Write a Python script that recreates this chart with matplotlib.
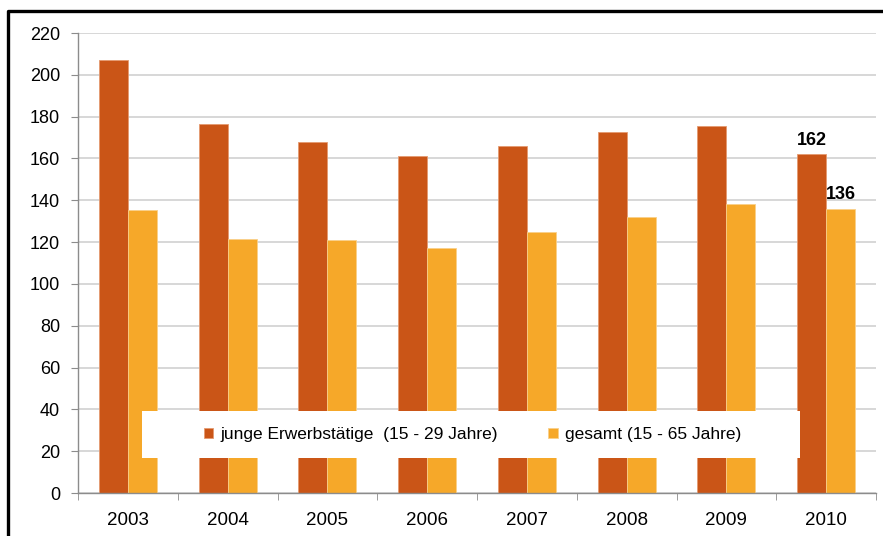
import matplotlib
matplotlib.use("Agg")
import matplotlib.pyplot as plt
from matplotlib.patches import Rectangle
from matplotlib.lines import Line2D
import numpy as np

plt.rcParams['font.family'] = ['Liberation Sans', 'DejaVu Sans']

years = ['2003', '2004', '2005', '2006', '2007', '2008', '2009', '2010']
junge = [207, 176.5, 168, 161, 166, 172.5, 175.5, 162]
gesamt = [135.5, 121.5, 121, 117, 125, 132, 138, 136]
label_junge = 'junge Erwerbstätige  (15 - 29 Jahre)'
label_gesamt = 'gesamt (15 - 65 Jahre)'

c_junge = '#CA5517'
c_gesamt = '#F6A829'

W, H = 883, 536
fig = plt.figure(figsize=(W / 100, H / 100), dpi=100)
ax = fig.add_axes([78 / W, (H - 493) / H, (876 - 78) / W, (493 - 33) / H])

x = np.arange(len(years))
w = 0.29
ax.bar(x - w / 2, junge, w, color=c_junge, edgecolor='#E59A70', linewidth=0.6, zorder=2, label=label_junge)
ax.bar(x + w / 2, gesamt, w, color=c_gesamt, edgecolor='#F9D08A', linewidth=0.6, zorder=2, label=label_gesamt)

ax.set_xlim(-0.5, len(years) - 0.5)
ax.set_ylim(0, 220)
ax.set_yticks(range(0, 221, 20))
ax.yaxis.grid(True, color='#D4D4D4', linewidth=1.3, zorder=0)
ax.set_axisbelow(True)

for s in ['top', 'right']:
    ax.spines[s].set_visible(False)
for s in ['left', 'bottom']:
    ax.spines[s].set_color('#8C8C8C')
    ax.spines[s].set_linewidth(1.0)

ax.set_xticks(x)
ax.set_xticklabels(years)
ax.set_xticks(np.arange(len(years) + 1) - 0.5, minor=True)
ax.tick_params(axis='x', which='major', length=0, pad=14, labelsize=13.5)
ax.tick_params(axis='x', which='minor', length=5, color='#8C8C8C', direction='out')
ax.tick_params(axis='y', length=5, color='#8C8C8C', pad=8, labelsize=13)

# value labels on last pair
ax.annotate(f'{junge[-1]:.0f}', (x[-1] - w / 2, junge[-1]), xytext=(0, 4), textcoords='offset points',
            ha='center', va='bottom', fontsize=13, fontweight='bold')
ax.annotate(f'{gesamt[-1]:.0f}', (x[-1] + w / 2, gesamt[-1]), xytext=(0, 4), textcoords='offset points',
            ha='center', va='bottom', fontsize=13, fontweight='bold')

# white legend box over the bars
x0, x1 = (142 - 78) / 798, (800 - 78) / 798
y0, y1 = (493 - 458) / 460, (493 - 411) / 460
ax.add_patch(Rectangle((x0, y0), x1 - x0, y1 - y0, transform=ax.transAxes,
                       facecolor='white', edgecolor='none', zorder=3))
leg = ax.legend(loc='center', bbox_to_anchor=(0.494, (y0 + y1) / 2), ncol=2,
                frameon=False, fontsize=12.5, handlelength=0.55, handleheight=0.55,
                handletextpad=0.4, columnspacing=2.9)
leg.set_zorder(4)

# black frame lines (left and top)
fig.add_artist(Line2D([8 / W, 8 / W, 1.0], [0.0, 1 - 11 / H, 1 - 11 / H], color='black',
                      linewidth=2.4, transform=fig.transFigure))

fig.savefig('out.png', dpi=100)
